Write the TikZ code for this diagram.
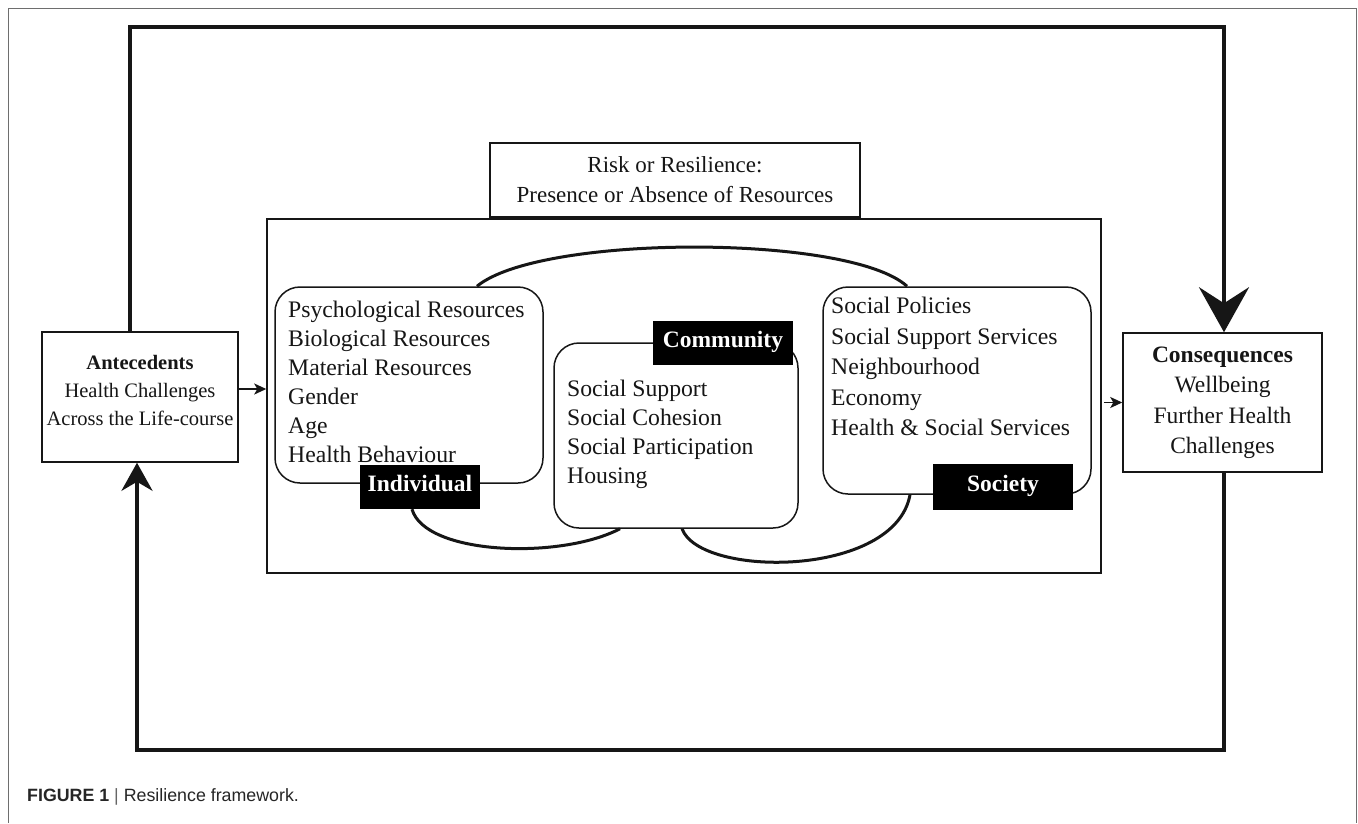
\documentclass[tikz,border=0pt]{standalone}
\usepackage{fontspec}
\setmainfont{Liberation Serif}
\newfontfamily\capfont{Liberation Sans}
\usetikzlibrary{arrows.meta,calc}
\definecolor{ink}{HTML}{161616}
\definecolor{framegray}{HTML}{6E6E6E}
\begin{document}
\begin{tikzpicture}[x=1pt,y=-1pt,
  sqbox/.style={draw=ink, line width=1.5pt, fill=white, inner sep=0pt},
  rbox/.style={draw=ink, line width=1.5pt, rounded corners=25pt, inner sep=0pt},
  tagbox/.style={fill=black, text=white, font=\fontsize{23.5}{28}\selectfont\bfseries, inner sep=0pt, text height=16pt, text depth=7pt},
  listtext/.style={anchor=north west, align=left, inner sep=0pt, text=ink, font=\fontsize{23.7}{29}\selectfont},
  loopline/.style={line width=4pt, draw=ink},
  curveline/.style={line width=3pt, draw=ink},
  smallarrow/.style={line width=1.5pt, draw=ink, -{Stealth[length=12pt,width=11pt,inset=3pt]}},
]
\useasboundingbox (0,0) rectangle (1358,823);
\fill[white] (0,0) rectangle (1358,823);
% outer frame
\draw[framegray, line width=1pt] (8,823) -- (8,8) -- (1356,8) -- (1356,823);

% inner frame and title box
\node[sqbox, fill=none, minimum width=834pt, minimum height=354pt] (inner) at (684,396) {};
\node[sqbox, minimum width=370pt, minimum height=74pt, align=center, text=ink, font=\fontsize{23}{30}\selectfont] (risk) at (675,180) {Risk or Resilience:\\Presence or Absence of Resources};

% antecedents / consequences
\node[sqbox, minimum width=196pt, minimum height=130pt] (ante) at (140,397) {};
\node[align=center, inner sep=0pt, text=ink, font=\fontsize{20.5}{28}\selectfont] (antetext) at (140,390) {\textbf{Antecedents}\\Health Challenges\\Across the Life-course};
\node[sqbox, minimum width=199pt, minimum height=139pt, align=center, text=ink, font=\fontsize{23.5}{30.5}\selectfont] (cons) at (1222.5,402.5) {\textbf{Consequences}\\Wellbeing\\Further Health\\Challenges};

% rounded boxes
\node[rbox, minimum width=268pt, minimum height=196pt] (indiv) at (409,385) {};
\node[listtext] (indivtext) at (288,301) {Psychological Resources\\Biological Resources\\Material Resources\\Gender\\Age\\Health Behaviour};
\node[rbox, minimum width=244pt, minimum height=185pt] (comm) at (676,435.5) {};
\node[listtext] (commtext) at (567,380) {Social Support\\Social Cohesion\\Social Participation\\Housing};
\node[rbox, minimum width=268pt, minimum height=207pt] (soc) at (957,390.5) {};
\node[listtext, font=\fontsize{23.7}{30.5}\selectfont] (soctext) at (831,297) {Social Policies\\Social Support Services\\Neighbourhood\\Economy\\Health \& Social Services};

% labels
\node[tagbox, minimum width=120pt, minimum height=44pt] (indivtag) at (420,487) {Individual};
\node[tagbox, minimum width=140pt, minimum height=44pt] (commtag) at (723,343) {Community};
\node[tagbox, minimum width=140pt, minimum height=46pt] (soctag) at (1003,487) {Society};

% connecting curves
\draw[curveline] ([xshift=68pt]indiv.north) .. controls (540,234) and (850,234) .. ([xshift=-50pt]soc.north);
\draw[curveline] ([xshift=-8pt]indivtag.south) .. controls (425,555) and (560,560) .. ([xshift=-56pt]comm.south);
\draw[curveline] ([xshift=6pt]comm.south) .. controls (700,578) and (895,578) .. ([xshift=-47pt]soc.south);

% loop
\coordinate (tl) at (130,27);
\coordinate (tr) at (1224,27);
\coordinate (bl) at (137,750);
\coordinate (br) at (1224,750);
\draw[loopline, -{Stealth[length=45pt,width=50pt,inset=16pt]}] (ante.north -| tl) -- (tl) -- (tr) -- (tr |- cons.north);
\draw[loopline, -{Stealth[length=28pt,width=31pt,inset=9pt]}] (cons.south -| br) -- (br) -- (bl) -- (bl |- ante.south);

% small arrows
\draw[smallarrow] ([yshift=8pt]ante.east) -- ([yshift=8pt]ante.east -| inner.west);
\draw[smallarrow] ([xshift=2pt]cons.west -| inner.east) -- (cons.west);

% caption
\node[anchor=west, inner sep=0pt, text=black!85, font=\capfont\fontsize{17.8}{20}\selectfont] (cap) at (27,797) {\textbf{FIGURE 1} {\color{black!60}|} Resilience framework.};
\end{tikzpicture}
\end{document}
